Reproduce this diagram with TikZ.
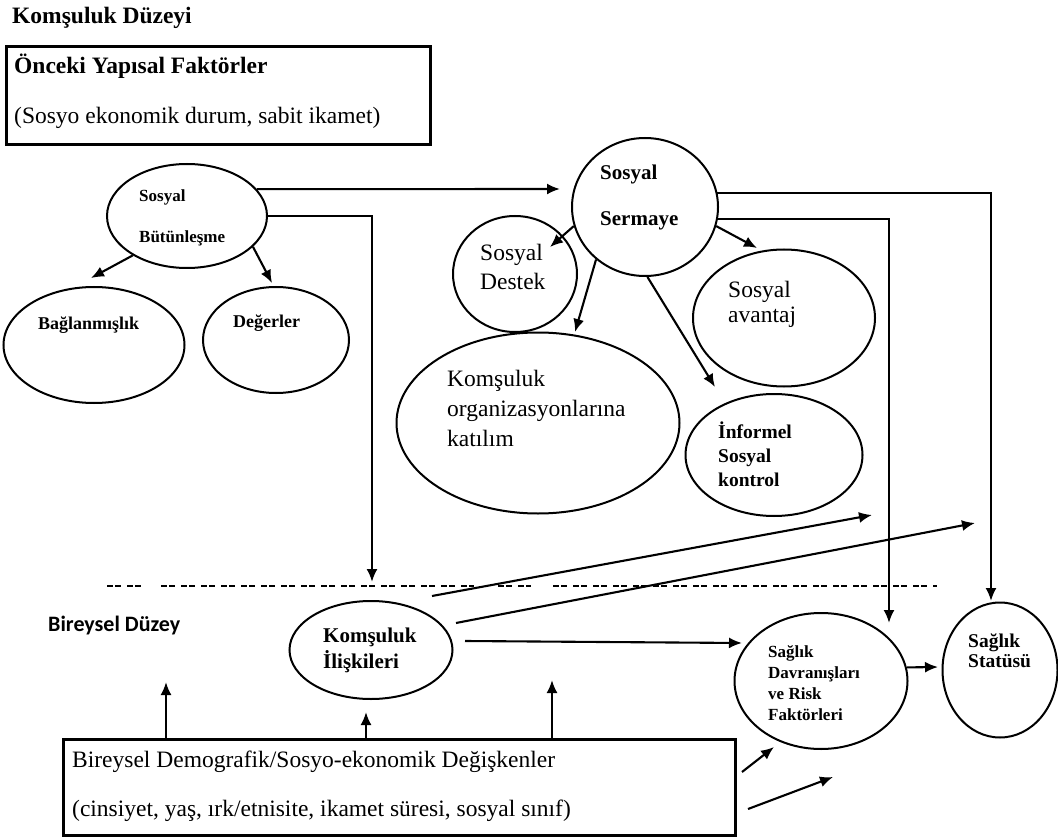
\documentclass[tikz,border=0pt]{standalone}
\usepackage{fontspec}
\setmainfont{Liberation Serif}
\newfontfamily\carlitofont{Carlito}
\usetikzlibrary{shapes.geometric,arrows.meta}
\begin{document}
\begin{tikzpicture}[x=1pt,y=-1pt,
  ell/.style={draw, ellipse, line width=2pt, inner sep=0pt},
  arr/.style={line width=2.1pt, -{Latex[length=13pt,width=11pt]}},
  bx/.style={draw, rectangle, line width=3.4pt, inner sep=0pt, anchor=north west},
  dsh/.style={line width=2.1pt, dash pattern=on 6pt off 2pt on 6pt off 6pt},
  txt/.style={anchor=base west, inner sep=0pt},
  big/.style={txt, font=\fontsize{23.5}{28}\selectfont},
  bigb/.style={txt, font=\bfseries\fontsize{23.5}{28}\selectfont},
  reg/.style={txt, font=\fontsize{23.5}{27}\selectfont},
  b17/.style={txt, font=\bfseries\fontsize{17}{20}\selectfont},
  b18/.style={txt, font=\bfseries\fontsize{18}{21}\selectfont},
  b19/.style={txt, font=\bfseries\fontsize{19.5}{23}\selectfont},
  b21/.style={txt, font=\bfseries\fontsize{21}{24}\selectfont},
  sansb/.style={txt, font=\carlitofont\bfseries\fontsize{22}{26}\selectfont}
]
\useasboundingbox (0,0) rectangle (1058,837);

% boxes
\node[bx, minimum width=424pt, minimum height=98pt] (topbox) at (5,45) {};
\node[bx, minimum width=672pt, minimum height=96pt] (bb) at (62,738) {};

% ellipses
\node[ell, minimum width=160pt, minimum height=104pt] (sb) at (187,216) {};
\node[ell, minimum width=181pt, minimum height=116pt] (bag) at (94,345) {};
\node[ell, minimum width=146pt, minimum height=106pt] (deg) at (276,340) {};
\node[ell, minimum width=146pt, minimum height=138pt] (ss) at (645,207) {};
\node[ell, minimum width=124pt, minimum height=116pt] (des) at (515,274) {};
\node[ell, minimum width=182pt, minimum height=137pt] (ava) at (784,318) {};
\node[ell, minimum width=283pt, minimum height=181pt] (org) at (538,423) {};
\node[ell, minimum width=177pt, minimum height=122pt] (inf) at (774,455) {};
\node[ell, minimum width=163pt, minimum height=98pt] (ki) at (371,650) {};
\node[ell, minimum width=173pt, minimum height=136pt] (dav) at (821,681) {};
\node[ell, minimum width=115pt, minimum height=135pt] (st) at (1000,670) {};

% texts
\node[bigb] (t0) at (12,24) {Komşuluk Düzeyi};
\node[bigb] (t1) at (14,74) {Önceki Yapısal Faktörler};
\node[big] (t2) at (14,124) {(Sosyo ekonomik durum, sabit ikamet)};
\node[b17] (sbt1) at (139,202) {Sosyal};
\node[b17] (sbt2) at (139,243) {Bütünleşme};
\node[b18] (bagt) at (38,329) {Bağlanmışlık};
\node[b18] (degt) at (233,327) {Değerler};
\node[b21] (sst1) at (600,180) {Sosyal};
\node[b21] (sst2) at (600,226) {Sermaye};
\node[reg] (dest1) at (480,261) {Sosyal};
\node[reg] (dest2) at (480,290) {Destek};
\node[reg] (avat1) at (728,298) {Sosyal};
\node[reg] (avat2) at (728,323) {avantaj};
\node[big] (orgt1) at (447,386) {Komşuluk};
\node[big] (orgt2) at (447,416) {organizasyonlarına};
\node[big] (orgt3) at (447,446) {katılım};
\node[b19] (inft1) at (718,438) {İnformel};
\node[b19] (inft2) at (718,462) {Sosyal};
\node[b19] (inft3) at (718,486) {kontrol};
\node[sansb] (bd) at (48,631) {Bireysel Düzey};
\node[b21] (kit1) at (323,642) {Komşuluk};
\node[b21] (kit2) at (323,668) {İlişkileri};
\node[b17] (davt1) at (768,657) {Sağlık};
\node[b17] (davt2) at (768,678) {Davranışları};
\node[b17] (davt3) at (768,699) {ve Risk};
\node[b17] (davt4) at (768,720) {Faktörleri};
\node[b19] (stt1) at (968,647) {Sağlık};
\node[b19] (stt2) at (968,667) {Statüsü};
\node[big] (bbt1) at (72,767) {Bireysel Demografik/Sosyo-ekonomik Değişkenler};
\node[big] (bbt2) at (72,816) {(cinsiyet, yaş, ırk/etnisite, ikamet süresi, sosyal sınıf)};

% dashed level line
\draw[dsh] (107,586) -- (143,586);
\draw[dsh] (161,586) -- (474,586);
\draw[dsh] (498,586) -- (531,586);
\draw[dsh] (553,586) -- (937,586);

% free ends
\coordinate (c1) at (560,189);
\coordinate (c2) at (372,582);
\coordinate (c3) at (91,278);
\coordinate (c4) at (272,283);
\coordinate (c5) at (550,247);
\coordinate (c6) at (575,332);
\coordinate (c7) at (715,387);
\coordinate (c8) at (757,248);
\coordinate (c9) at (991,601);
\coordinate (c10) at (889,623);
\coordinate (c11s) at (432,596);
\coordinate (c11) at (872,515);
\coordinate (c12s) at (456,623);
\coordinate (c12) at (975,523);
\coordinate (c13s) at (465,641);
\coordinate (c13) at (742,643);
\coordinate (c14) at (938,667);
\coordinate (c15) at (166,682);
\coordinate (c16) at (366,712);
\coordinate (c17) at (552,680);
\coordinate (c18s) at (742,772);
\coordinate (c18) at (774,747);
\coordinate (c19s) at (748,809);
\coordinate (c19) at (833,777);

% connectors
\draw[arr] (sb.21.5) -- (c1);
\draw[arr] (sb.east) -| (c2);
\draw[arr] (sb.216) -- (c3);
\draw[arr] (sb.335) -- (c4);
\draw[arr] (ss.195.3) -- (c5);
\draw[arr] (ss.227.6) -- (c6);
\draw[arr] (ss.272.4) -- (c7);
\draw[arr] (ss.345.6) -- (c8);
\draw[arr] (ss.11.9) -| (c9);
\draw[arr] (ss.351.3) -| (c10);
\draw[arr] (c11s) -- (c11);
\draw[arr] (c12s) -- (c12);
\draw[arr] (c13s) -- (c13);
\draw[arr] (dav.9.4) -- (c14);
\draw[arr] (c15 |- bb.north) -- (c15);
\draw[arr] (c16 |- bb.north) -- (c16);
\draw[arr] (c17 |- bb.north) -- (c17);
\draw[arr] (c18s) -- (c18);
\draw[arr] (c19s) -- (c19);
\end{tikzpicture}
\end{document}
